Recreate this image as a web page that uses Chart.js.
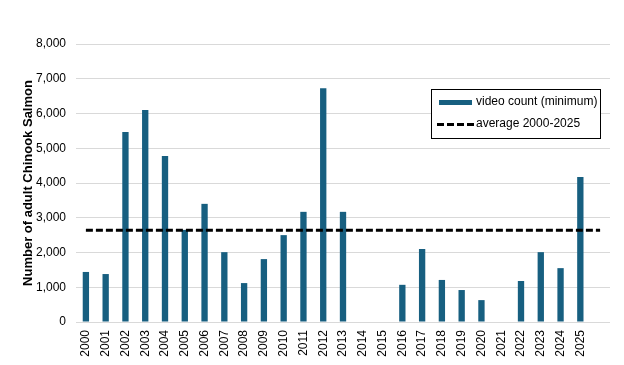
<!DOCTYPE html>
<html>
<head>
<meta charset="utf-8">
<script src="https://cdn.jsdelivr.net/npm/chart.js@4/dist/chart.umd.min.js"></script>
<style>
  html, body { margin: 0; padding: 0; background: #fff; }
  #wrap { width: 624px; height: 365px; }
</style>
</head>
<body>
<div id="wrap"><canvas id="myChart" width="624" height="365"></canvas></div>
<script>
const years = ['2000','2001','2002','2003','2004','2005','2006','2007','2008','2009','2010','2011','2012',
  '2013','2014','2015','2016','2017','2018','2019','2020','2021','2022','2023','2024','2025'];
const videoCount = [1440, 1380, 5470, 6100, 4780, 2650, 3400, 2010, 1120, 1810, 2500, 3170, 6730,
  3170, null, null, 1070, 2100, 1210, 920, 630, null, 1180, 2010, 1550, 4170];
const average = 2640;
const yTicks = [0, 1000, 2000, 3000, 4000, 5000, 6000, 7000, 8000];

const barColor = '#175f80';
const fontFam = '"Liberation Sans", Arial, sans-serif';

// one empty slot after 2025, the average line runs to its centre
const labels = years.concat(['']);
const avgLine = labels.map(() => average);

const legendBox = {
  id: 'legendBox',
  afterDraw(chart) {
    const ctx = chart.ctx;
    const x = 431, y = 89, w = 169, h = 49;
    ctx.save();
    ctx.fillStyle = '#fff';
    ctx.fillRect(x, y, w, h);
    ctx.strokeStyle = '#000';
    ctx.lineWidth = 1;
    ctx.strokeRect(x + 0.5, y + 0.5, w, h);
    ctx.fillStyle = barColor;
    ctx.fillRect(439, 100, 33, 5);
    ctx.strokeStyle = '#000';
    ctx.lineWidth = 3;
    ctx.setLineDash([7, 3]);
    ctx.beginPath();
    ctx.moveTo(437, 124.5);
    ctx.lineTo(474, 124.5);
    ctx.stroke();
    ctx.setLineDash([]);
    ctx.fillStyle = '#000';
    ctx.font = '12px ' + fontFam;
    ctx.textBaseline = 'middle';
    ctx.fillText('video count (minimum)', 476, 102);
    ctx.fillText('average 2000-2025', 476, 124);
    ctx.restore();
  }
};

const ctx = document.getElementById('myChart').getContext('2d');
const myChart = new Chart(ctx, {
  data: {
    labels: labels,
    datasets: [
      {
        type: 'line',
        label: 'average 2000-2025',
        data: avgLine,
        borderColor: '#000',
        borderWidth: 3,
        borderDash: [7, 3],
        pointRadius: 0,
        fill: false,
        order: 0
      },
      {
        type: 'bar',
        label: 'video count (minimum)',
        data: videoCount,
        backgroundColor: barColor,
        barPercentage: 0.32,
        categoryPercentage: 1,
        order: 1
      }
    ]
  },
  options: {
    responsive: false,
    animation: false,
    layout: { padding: { top: 44, right: 14, left: 21, bottom: 0 } },
    plugins: {
      legend: { display: false },
      tooltip: { enabled: false }
    },
    scales: {
      x: {
        grid: { display: false, drawTicks: false },
        border: { display: false },
        ticks: {
          color: '#000',
          font: { family: fontFam, size: 12 },
          minRotation: 90,
          maxRotation: 90,
          padding: 8,
          autoSkip: false
        },
        afterFit(scale) { scale.height = 43; }
      },
      y: {
        min: 0,
        max: 8000,
        afterBuildTicks(scale) { scale.ticks = yTicks.map(v => ({ value: v })); },
        grid: { color: '#d9d9d9', drawTicks: false },
        border: { display: false },
        ticks: {
          color: '#000',
          font: { family: fontFam, size: 12 },
          padding: 10,
          callback: v => v.toLocaleString('en-US')
        },
        title: {
          display: true,
          text: 'Number of adult Chinook Salmon',
          color: '#000',
          font: { family: fontFam, size: 13, weight: 'bold' },
          padding: { top: 0, bottom: 4 }
        },
        afterFit(scale) { scale.width = 55; }
      }
    }
  },
  plugins: [legendBox]
});
</script>
</body>
</html>
